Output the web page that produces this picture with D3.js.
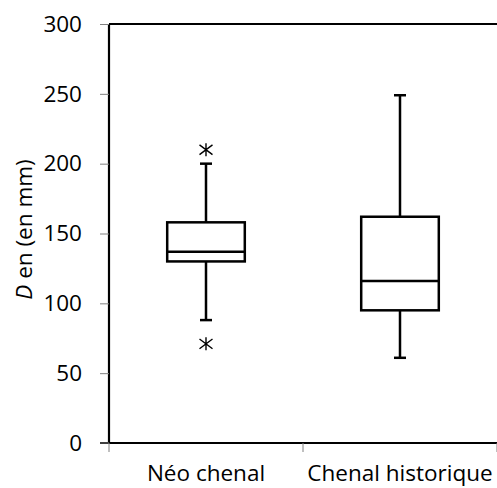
<!DOCTYPE html>
<html>
<head>
<meta charset="utf-8">
<script src="https://cdn.jsdelivr.net/npm/d3@7"></script>
<style>
  html, body { margin: 0; padding: 0; background: #fff; }
  svg { display: block; }
  text { font-family: "Open Sans", sans-serif; fill: #000; }
</style>
</head>
<body>
<svg id="chart" width="497" height="488"></svg>
<script>
// Box-plot summaries of D (mm) for each channel
const categories = ["Néo chenal", "Chenal historique"];
const whiskerLow  = [88, 61];
const q1          = [130, 95];
const median      = [137, 116];
const q3          = [158, 162];
const whiskerHigh = [200, 249];
const outliers    = [[210, 71], []];
const yTicks      = [0, 50, 100, 150, 200, 250, 300];

const svg = d3.select("#chart");
const margin = { left: 109, top: 24, right: 0, bottom: 45 };
const W = 497, H = 488;
const fontSize = 22.5;

const x = d3.scaleBand().domain(categories)
  .range([margin.left, margin.left + 2 * 194]).paddingInner(0).paddingOuter(0);
const y = d3.scaleLinear().domain([0, 300]).range([H - margin.bottom, margin.top]);

const boxW = x.bandwidth() * 0.40;
const capW = 12;

// top border of plot frame
svg.append("line")
  .attr("x1", margin.left).attr("x2", W + 2)
  .attr("y1", y(300)).attr("y2", y(300))
  .attr("stroke", "#000").attr("stroke-width", 2);

// y axis
const yAxis = svg.append("g")
  .attr("transform", `translate(${margin.left},0)`)
  .call(d3.axisLeft(y).tickValues(yTicks).tickSize(9).tickPadding(18));
yAxis.select(".domain").attr("stroke", "#000").attr("stroke-width", 2.2)
  .attr("d", `M0,${y(0)}V${y(300)}`);
yAxis.selectAll(".tick line").attr("stroke", "#808080").attr("stroke-width", 1);
yAxis.selectAll(".tick text").attr("font-size", fontSize).attr("font-family", "Open Sans, sans-serif");

// x axis with ticks at category boundaries
const xAxisG = svg.append("g").attr("transform", `translate(0,${y(0)})`);
xAxisG.append("line")
  .attr("x1", margin.left - 9).attr("x2", W + 2)
  .attr("y1", 0).attr("y2", 0)
  .attr("stroke", "#000").attr("stroke-width", 2.2);
xAxisG.append("line")
  .attr("x1", margin.left - 9).attr("x2", margin.left)
  .attr("stroke", "#808080").attr("stroke-width", 1);
const bounds = categories.map(c => x(c)).concat([x(categories[1]) + x.bandwidth()]);
xAxisG.selectAll("line.xt").data(bounds).join("line").attr("class", "xt")
  .attr("x1", d => d).attr("x2", d => d).attr("y1", 0).attr("y2", 9)
  .attr("stroke", "#808080").attr("stroke-width", 1);
xAxisG.selectAll("text.xl").data(categories).join("text").attr("class", "xl")
  .attr("x", d => x(d) + x.bandwidth() / 2).attr("y", 38)
  .attr("text-anchor", "middle").attr("font-size", fontSize)
  .text(d => d);

// y axis title
const yt = svg.append("text")
  .attr("transform", `translate(32,${(y(0) + y(300)) / 2 - 4}) rotate(-90)`)
  .attr("text-anchor", "middle").attr("font-size", fontSize);
yt.append("tspan").attr("font-style", "italic").text("D");
yt.append("tspan").text(" en (en mm)");

// boxes
const boxes = svg.append("g").selectAll("g").data(categories).join("g")
  .attr("stroke", "#000").attr("stroke-width", 2.5).attr("fill", "none");

boxes.each(function(c, i) {
  const g = d3.select(this);
  const cx = x(c) + x.bandwidth() / 2;
  // whiskers
  g.append("line").attr("x1", cx).attr("x2", cx).attr("y1", y(q3[i])).attr("y2", y(whiskerHigh[i]));
  g.append("line").attr("x1", cx).attr("x2", cx).attr("y1", y(q1[i])).attr("y2", y(whiskerLow[i]));
  g.append("line").attr("x1", cx - capW / 2).attr("x2", cx + capW / 2)
    .attr("y1", y(whiskerHigh[i])).attr("y2", y(whiskerHigh[i]));
  g.append("line").attr("x1", cx - capW / 2).attr("x2", cx + capW / 2)
    .attr("y1", y(whiskerLow[i])).attr("y2", y(whiskerLow[i]));
  // box
  g.append("rect").attr("x", cx - boxW / 2).attr("width", boxW)
    .attr("y", y(q3[i])).attr("height", y(q1[i]) - y(q3[i])).attr("fill", "#fff");
  // median
  g.append("line").attr("x1", cx - boxW / 2).attr("x2", cx + boxW / 2)
    .attr("y1", y(median[i])).attr("y2", y(median[i]));
  // outliers drawn as asterisks
  outliers[i].forEach(v => {
    const py = y(v), r = 6.5;
    g.append("path")
      .attr("stroke-width", 1.4)
      .attr("d", `M${cx},${py - r}V${py + r}` +
                 `M${cx - r},${py - r * 0.75}L${cx + r},${py + r * 0.75}` +
                 `M${cx - r},${py + r * 0.75}L${cx + r},${py - r * 0.75}`);
  });
});
</script>
</body>
</html>
